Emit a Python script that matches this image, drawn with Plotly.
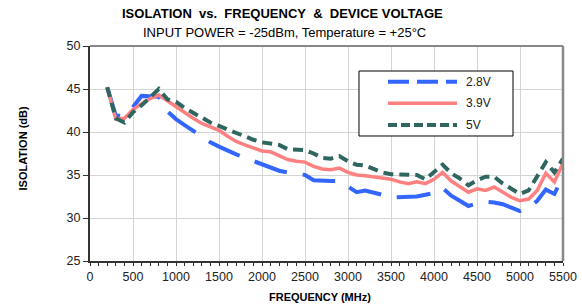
import plotly.graph_objects as go

freq = [200, 300, 400, 500, 600, 700, 800, 900, 1000,
        1100, 1200, 1300, 1400, 1500, 1600, 1700, 1800, 1900, 2000,
        2100, 2200, 2300, 2400, 2500, 2600, 2700, 2800, 2900, 3000,
        3100, 3200, 3300, 3400, 3500, 3600, 3700, 3800, 3900, 4000,
        4100, 4200, 4300, 4400, 4500, 4600, 4700, 4800, 4900, 5000,
        5100, 5200, 5300, 5400, 5500]

iso_2v8 = [45.2, 41.9, 41.9, 42.9, 44.2, 44.2, 44.1, 42.4, 41.5,
           40.8, 40.1, 39.4, 38.8, 38.3, 37.8, 37.4, 37.0, 36.6, 36.2,
           35.8, 35.5, 35.3, 35.2, 35.0, 34.4, 34.3, 34.3, 34.3, 33.6,
           33.0, 33.2, 33.0, 32.7, 32.4, 32.4, 32.4, 32.5, 32.7, 32.9,
           33.5, 32.6, 32.0, 31.4, 31.7, 31.9, 31.8, 31.6, 31.2, 30.8,
           31.2, 32.0, 33.3, 32.8, 34.8]

iso_3v9 = [45.2, 41.5, 41.6, 42.6, 43.3, 43.9, 44.3, 43.6, 43.0,
           42.3, 41.6, 41.0, 40.6, 40.2, 39.5, 38.9, 38.5, 38.2, 37.8,
           37.7, 37.2, 36.8, 36.6, 36.5, 36.0, 35.7, 35.6, 35.8, 35.3,
           35.0, 34.9, 34.8, 34.6, 34.5, 34.2, 34.0, 34.2, 34.0, 34.5,
           35.3, 34.3, 33.6, 33.0, 33.4, 33.2, 33.6, 33.0, 32.4, 32.0,
           32.2, 33.2, 35.2, 34.2, 36.4]

iso_5v = [45.2, 41.6, 41.1, 42.3, 43.1, 44.0, 45.0, 43.8, 43.5,
          42.8, 42.2, 41.6, 41.1, 40.7, 40.3, 39.8, 39.4, 39.1, 38.8,
          38.7, 38.5, 38.0, 37.9, 37.9, 37.5, 37.0, 36.9, 37.2, 36.6,
          36.2, 36.1, 35.7, 35.3, 35.1, 35.1, 35.0, 35.0, 34.5, 35.4,
          36.2, 35.2, 34.6, 33.8, 34.4, 34.8, 34.8, 34.0, 33.4, 32.8,
          33.2, 34.8, 36.5, 35.3, 36.9]

series_names = ["2.8V", "3.9V", "5V"]

x_ticks = [0, 500, 1000, 1500, 2000, 2500, 3000, 3500, 4000, 4500, 5000, 5500]
y_ticks = [25, 30, 35, 40, 45, 50]

FONT = "Liberation Sans, Arial, sans-serif"

styles = [
    dict(color="#3366FF", width=4, dash="34px,16px", legend_dash="21px,8px"),
    dict(color="#FF8080", width=3.5, dash="solid", legend_dash="solid"),
    dict(color="#2F6660", width=4, dash="10px,6px", legend_dash="9px,4px"),
]

fig = go.Figure()
for name, vals, st in zip(series_names, [iso_2v8, iso_3v9, iso_5v], styles):
    fig.add_trace(go.Scatter(x=freq, y=vals, mode="lines", name=name, showlegend=False,
                             line=dict(color=st["color"], width=st["width"], dash=st["dash"])))

# Hand-drawn legend box (Excel style, long line samples)
shapes = [
    dict(type="line", xref="paper", yref="paper", x0=0, x1=1, y0=1, y1=1,
         line=dict(color="#888", width=2)),
    dict(type="line", xref="paper", yref="paper", x0=1, x1=1, y0=0, y1=1,
         line=dict(color="#888", width=2.5)),
    dict(type="rect", xref="paper", yref="paper", x0=0.5687, x1=0.8943, y0=0.5814, y1=0.8837,
         line=dict(color="black", width=1), fillcolor="white", layer="above"),
]
annotations = []
legend_y = [0.834, 0.7335, 0.6326]
for name, st, ly in zip(series_names, styles, legend_y):
    shapes.append(dict(type="line", xref="paper", yref="paper", x0=0.630, x1=0.776, y0=ly, y1=ly,
                       line=dict(color=st["color"], width=st["width"], dash=st["legend_dash"]),
                       layer="above"))
    annotations.append(dict(text=name, xref="paper", yref="paper", x=0.7907, y=ly,
                            xanchor="left", yanchor="middle", showarrow=False,
                            font=dict(size=12, color="#222")))

annotations += [
    dict(text="<b>ISOLATION&nbsp;&nbsp;vs.&nbsp;&nbsp;FREQUENCY&nbsp;&nbsp;&amp;&nbsp;&nbsp;DEVICE VOLTAGE</b>",
         xref="paper", yref="paper", x=0.4074, y=1.149, xanchor="center", yanchor="middle",
         showarrow=False, font=dict(size=13, color="black")),
    dict(text="INPUT POWER = -25dBm, Temperature = +25°C",
         xref="paper", yref="paper", x=0.4110, y=1.065, xanchor="center", yanchor="middle",
         showarrow=False, font=dict(size=13, color="black")),
    dict(text="<b>ISOLATION (dB)</b>", textangle=-90,
         xref="paper", yref="paper", x=-0.1416, y=0.5235, xanchor="center", yanchor="middle",
         showarrow=False, font=dict(size=11, color="black")),
    dict(text="<b>FREQUENCY (MHz)</b>",
         xref="paper", yref="paper", x=0.486, y=-0.1677, xanchor="center", yanchor="middle",
         showarrow=False, font=dict(size=11, color="black")),
]

fig.update_layout(
    width=582, height=305,
    margin=dict(l=90, r=19, t=46, b=44, autoexpand=False),
    paper_bgcolor="white", plot_bgcolor="white",
    font=dict(family=FONT, color="#222", size=12.5),
    showlegend=False,
    xaxis=dict(range=[0, 5500], tickvals=x_ticks, showgrid=True,
               gridcolor="#d4d4d4", gridwidth=1, zeroline=False,
               showline=True, linecolor="#333", linewidth=2,
               ticks="outside", ticklen=3, tickcolor="#333",
               minor=dict(dtick=100, ticks="outside", ticklen=3, tickcolor="#333", showgrid=False),
               tickfont=dict(size=12.5, color="#222"), automargin=False),
    yaxis=dict(range=[25, 50], tickvals=y_ticks, showgrid=True,
               gridcolor="#d4d4d4", gridwidth=1, zeroline=False,
               showline=True, linecolor="#333", linewidth=2,
               ticks="outside", ticklen=5, tickcolor="#333",
               tickfont=dict(size=12.5, color="#222"), automargin=False),
    shapes=shapes,
    annotations=annotations,
)

fig.write_html("out.html", config={"displayModeBar": False},
               post_script="document.body.style.margin='0';")
